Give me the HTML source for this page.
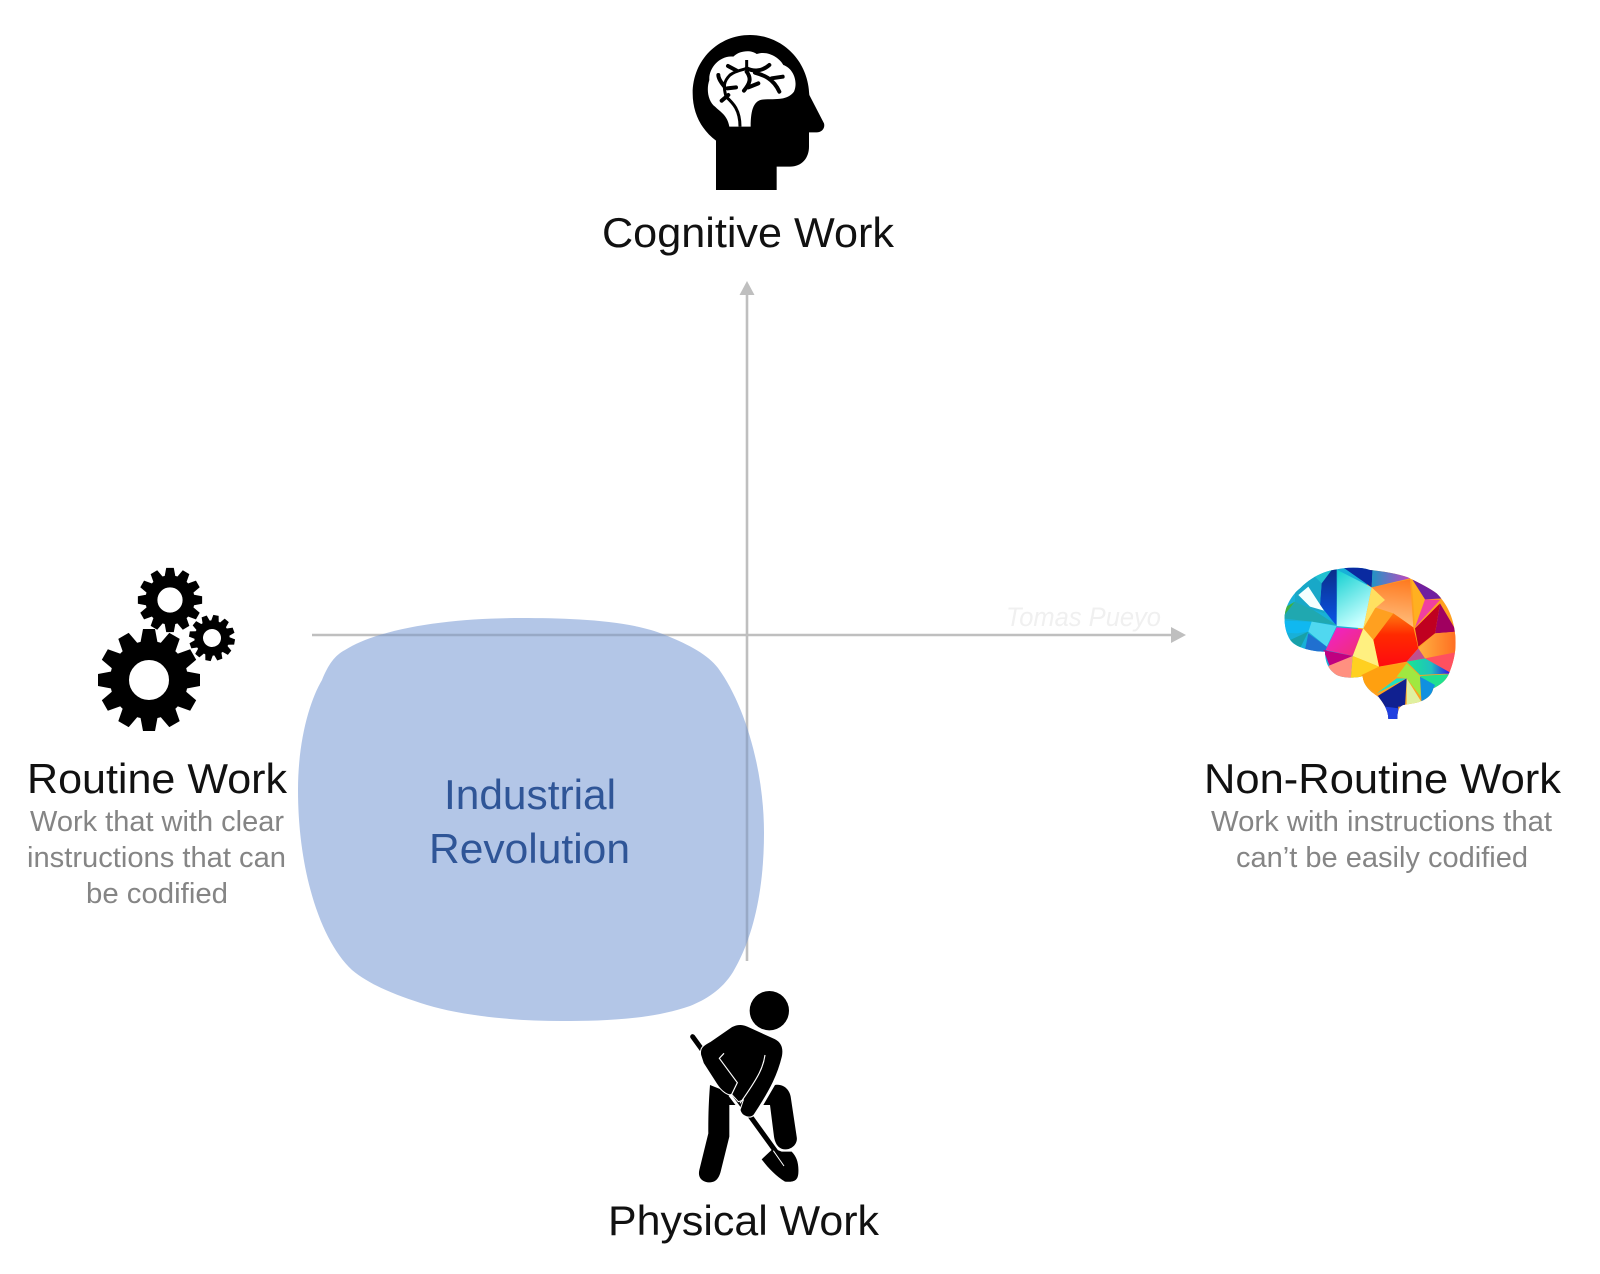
<!DOCTYPE html>
<html><head><meta charset="utf-8"><style>
html,body{margin:0;padding:0;background:#fff}
svg{display:block}
text{font-family:"Liberation Sans",sans-serif}
.t{font-size:42px;fill:#111}
.s{font-size:29px;fill:#858585}
.b{font-size:42px;fill:#2f5597}
</style></head><body>
<svg xmlns="http://www.w3.org/2000/svg" width="1600" height="1274" viewBox="0 0 1600 1274">
<defs>
<clipPath id="bc"><path d="M521 618C570 618 630 620 665 635C690 645 708 655 718 668C745 705 764 770 764 833C764 885 755 935 733 972C722 990 705 1000 690 1006C650 1020 600 1021 562 1021C510 1021 460 1015 427 1005C395 995 370 985 352 970C320 940 298 870 298 790C298 740 310 700 322 680C328 665 335 655 345 650C380 628 450 618 521 618Z"/></clipPath>
<clipPath id="br"><path d="M315 190C320 160 340 130 360 115C385 90 420 65 470 58C500 52 540 50 570 60C620 65 670 75 690 85C720 100 750 115 770 130C800 160 820 200 825 250C830 290 825 330 805 375C795 395 780 405 760 415C755 440 730 455 700 460L670 465C655 470 652 490 652 507L625 507C625 480 610 460 595 440C570 425 550 405 548 378C530 385 490 385 470 375C445 360 435 335 435 305C400 305 360 295 340 280C320 265 310 220 315 190Z"/></clipPath>
<linearGradient id="g1" x1="0" y1="0" x2="0" y2="1"><stop offset="0" stop-color="#0a2a80"/><stop offset="1" stop-color="#0a55e8"/></linearGradient>
<linearGradient id="g2" x1="0" y1="0" x2="0.4" y2="1"><stop offset="0" stop-color="#10cfd0"/><stop offset="1" stop-color="#c8ffff"/></linearGradient>
<linearGradient id="g3" x1="0" y1="0" x2="1" y2="0"><stop offset="0" stop-color="#2095c5"/><stop offset="1" stop-color="#d040c0"/></linearGradient>
<linearGradient id="g4" x1="0.7" y1="0" x2="0.6" y2="1"><stop offset="0" stop-color="#ff7a20"/><stop offset="1" stop-color="#ffc080"/></linearGradient>
<linearGradient id="g5" x1="0.5" y1="0" x2="0.5" y2="1"><stop offset="0" stop-color="#ff7a10"/><stop offset=".4" stop-color="#ff2a00"/><stop offset="1" stop-color="#ff0a10"/></linearGradient>
<linearGradient id="g6" x1="0" y1="0" x2="1" y2="0"><stop offset="0" stop-color="#18e890"/><stop offset=".55" stop-color="#20c0c0"/><stop offset="1" stop-color="#3000f0"/></linearGradient>
<linearGradient id="g7" x1="0" y1="0" x2="1" y2="1"><stop offset="0" stop-color="#f020d0"/><stop offset="1" stop-color="#f03070"/></linearGradient>
<linearGradient id="g8" x1="0" y1="0" x2="1" y2="0"><stop offset="0" stop-color="#ffb040"/><stop offset="1" stop-color="#ff6a20"/></linearGradient>
<polygon id="tooth" points="-9,-35 -6,-51 6,-51 9,-35" fill="#000"/>
<g id="gear">
<circle r="29.5" fill="none" stroke="#000" stroke-width="19"/>
<use href="#tooth"/>
<use href="#tooth" transform="rotate(30)"/>
<use href="#tooth" transform="rotate(60)"/>
<use href="#tooth" transform="rotate(90)"/>
<use href="#tooth" transform="rotate(120)"/>
<use href="#tooth" transform="rotate(150)"/>
<use href="#tooth" transform="rotate(180)"/>
<use href="#tooth" transform="rotate(210)"/>
<use href="#tooth" transform="rotate(240)"/>
<use href="#tooth" transform="rotate(270)"/>
<use href="#tooth" transform="rotate(300)"/>
<use href="#tooth" transform="rotate(330)"/>
</g>
</defs>

<!-- axes -->
<g stroke="#bfbfbf" stroke-width="2.6" fill="none">
<line x1="312" y1="635" x2="1172" y2="635"/>
<line x1="747" y1="293" x2="747" y2="961"/>
</g>
<polygon points="747,281 754.5,295 739.5,295" fill="#bfbfbf"/>
<polygon points="1186,635 1171,627 1171,643" fill="#bfbfbf"/>

<!-- blob -->
<path d="M521 618C570 618 630 620 665 635C690 645 708 655 718 668C745 705 764 770 764 833C764 885 755 935 733 972C722 990 705 1000 690 1006C650 1020 600 1021 562 1021C510 1021 460 1015 427 1005C395 995 370 985 352 970C320 940 298 870 298 790C298 740 310 700 322 680C328 665 335 655 345 650C380 628 450 618 521 618Z" fill="#b3c6e7"/>
<g clip-path="url(#bc)" stroke="#98a9c6" stroke-width="2.6">
<line x1="312" y1="635" x2="1172" y2="635"/>
<line x1="747" y1="293" x2="747" y2="961"/>
</g>

<!-- labels -->
<text class="t" x="602" y="247" textLength="292" lengthAdjust="spacingAndGlyphs">Cognitive Work</text>
<text class="t" x="27" y="793" textLength="260" lengthAdjust="spacingAndGlyphs">Routine Work</text>
<text class="s" x="30" y="831" textLength="254" lengthAdjust="spacingAndGlyphs">Work that with clear</text>
<text class="s" x="27" y="867" textLength="259" lengthAdjust="spacingAndGlyphs">instructions that can</text>
<text class="s" x="86" y="903" textLength="142" lengthAdjust="spacingAndGlyphs">be codified</text>
<text class="t" x="1204" y="793" textLength="357" lengthAdjust="spacingAndGlyphs">Non-Routine Work</text>
<text class="s" x="1211" y="831" textLength="341" lengthAdjust="spacingAndGlyphs">Work with instructions that</text>
<text class="s" x="1236" y="867" textLength="292" lengthAdjust="spacingAndGlyphs">can’t be easily codified</text>
<text class="t" x="608" y="1235" textLength="271" lengthAdjust="spacingAndGlyphs">Physical Work</text>
<text class="b" x="444" y="809" textLength="172" lengthAdjust="spacingAndGlyphs">Industrial</text>
<text class="b" x="429" y="863" textLength="201" lengthAdjust="spacingAndGlyphs">Revolution</text>
<text x="1006" y="626" font-size="27" font-style="italic" fill="#f0f0f0" textLength="155" lengthAdjust="spacingAndGlyphs">Tomas Pueyo</text>

<!-- head -->
<g transform="translate(640,0) scale(.33333)">
<path d="M228 570L228 422C185 390 158 340 158 280C158 180 235 105 330 105C425 105 505 180 508 285L552 370C556 385 545 397 530 397L507 397L507 440C507 475 485 500 450 500L410 500L410 570Z" fill="#000"/>
<path d="M268 380C262 345 240 335 225 320C205 305 198 270 208 240C205 205 240 165 280 170C300 150 335 150 350 162C385 150 420 175 430 195C460 205 475 245 462 275C445 298 420 298 375 298C345 298 332 320 332 380Z" fill="#fff"/>
<g fill="none" stroke="#000" stroke-width="12" stroke-linecap="round">
<path d="M300 380C300 330 280 310 258 290C250 260 250 245 270 225C290 210 310 210 320 205L320 180" stroke-linecap="butt" stroke-width="9"/>
<path d="M245 302L265 285M262 265L288 262M235 225C235 235 245 250 252 258M264 198L290 212M320 205C340 215 365 215 388 195M345 218C370 225 400 235 418 275M395 235L428 230M320 215C335 235 330 250 312 272M325 262L355 250"/>
</g>
</g>

<!-- gears -->
<use href="#gear" transform="translate(149,680)"/>
<use href="#gear" transform="translate(170,600) scale(.63)"/>
<use href="#gear" transform="translate(212,638) rotate(10) scale(.45)"/>

<!-- colourful brain -->
<g transform="translate(1180,550) scale(.33333)" clip-path="url(#br)">
<polygon points="300,40 575,40 600,200 590,360 560,520 420,420 300,320" fill="#18b0d8"/>
<polygon points="575,40 840,40 840,400 760,520 560,520 520,300" fill="#ffa020"/>
<polygon points="470,40 425,95 420,165 470,228" fill="url(#g1)"/>
<polygon points="472,60 575,112 550,235 470,228" fill="url(#g2)"/>
<polygon points="472,40 578,40 578,60 575,112" fill="#0a2aa0"/>
<polygon points="578,40 575,112 690,85 700,60" fill="url(#g3)"/>
<polygon points="575,112 690,88 700,232 640,190 585,172" fill="url(#g4)"/>
<polygon points="575,112 550,235 585,175 615,150" fill="#ffe060"/>
<polygon points="640,190 700,232 715,295 680,335 597,350 580,270" fill="url(#g5)"/>
<polygon points="695,88 735,148 705,232" fill="#ffb020"/>
<polygon points="735,148 780,150 705,232" fill="#f040a0"/>
<polygon points="695,85 750,95 790,145 735,148" fill="#7020a0"/>
<polygon points="780,160 830,245 765,250" fill="#a00060"/>
<polygon points="780,160 765,250 715,290 705,235" fill="#c00020"/>
<polygon points="830,245 835,305 735,325 715,295 765,250" fill="url(#g8)"/>
<polygon points="835,305 815,385 735,325" fill="#ff5060"/>
<polygon points="380,60 470,40 425,100" fill="#20c0d0"/>
<polygon points="345,120 400,75 425,100 420,165 435,190 400,180 345,155" fill="#18a8c8"/>
<polygon points="355,135 385,110 432,182 390,170" fill="#f4ffff"/>
<polygon points="305,178 345,155 305,210" fill="#40b040"/>
<polygon points="345,155 400,180 470,225 395,215 305,205" fill="#20a8b0"/>
<polygon points="305,212 395,215 385,245 350,250 315,248" fill="#10b8f0"/>
<polygon points="395,215 470,228 440,290 385,245" fill="#50d8f0"/>
<polygon points="330,270 385,245 360,295" fill="#18a0a8"/>
<polygon points="385,250 440,290 440,315 375,300" fill="#2070d0"/>
<polygon points="470,232 548,238 518,318 437,300" fill="url(#g7)"/>
<polygon points="430,300 518,318 450,350" fill="#c00080"/>
<polygon points="440,350 518,318 512,390 470,385" fill="#ff9080"/>
<polygon points="550,235 580,270 597,350 518,318" fill="#fff080"/>
<polygon points="518,318 597,350 545,385 512,390" fill="#ffd020"/>
<polygon points="597,350 680,340 650,380 590,430 540,395 545,375" fill="#ffa010"/>
<polygon points="680,335 735,325 815,370 720,375" fill="url(#g6)"/>
<polygon points="680,340 650,380 680,385 722,440 720,378" fill="#a0e840"/>
<polygon points="720,378 815,372 770,420" fill="#20e090"/>
<polygon points="720,380 765,405 745,455 725,465" fill="#1090e0"/>
<polygon points="680,385 590,440 610,480 625,510 652,510 655,470 675,470" fill="#102090"/>
<polygon points="615,470 620,510 655,510 655,475" fill="#2040e0"/>
<polygon points="680,385 730,465 680,470" fill="#e0f0a0"/>
<polygon points="590,430 680,385 650,385" fill="#20e0c0"/>
<polygon points="680,335 715,295 735,325" fill="#c05090"/>
</g>

<!-- worker -->
<g transform="translate(600,960) scale(.33333)">
<circle cx="508" cy="152" r="59" fill="#000"/>
<path d="M330 375C325 440 325 480 325 520L298 630C292 655 310 668 330 667C350 667 358 650 362 635L388 530L388 435L480 435Z" fill="#000"/>
<path d="M490 435L525 375C555 370 570 395 572 410L590 530C595 555 570 570 555 568C535 568 525 550 522 530L510 435Z" fill="#000"/>
<line x1="395" y1="400" x2="525" y2="572" stroke="#fff" stroke-width="24"/>
<line x1="278" y1="230" x2="535" y2="585" stroke="#000" stroke-width="15" stroke-linecap="round"/>
<path d="M485 598L520 565L545 575L575 575C590 590 597 610 595 640C593 660 585 667 555 665C530 650 505 625 485 598Z" fill="#000"/>
<line x1="520" y1="572" x2="552" y2="618" stroke="#fff" stroke-width="3"/>
<path d="M302 285C298 262 312 255 330 245L395 200C415 190 430 192 450 202L525 236C545 246 552 265 547 290C535 340 515 385 462 465C450 478 425 470 420 450L430 420L415 425L395 403C385 408 365 395 350 372L310 310Z" fill="#000" stroke="#fff" stroke-width="3"/>
<path d="M372 280L358 295L412 368L395 403M495 285C490 320 480 345 420 430" fill="none" stroke="#fff" stroke-width="3.5"/>
</g>
</svg>
</body></html>
